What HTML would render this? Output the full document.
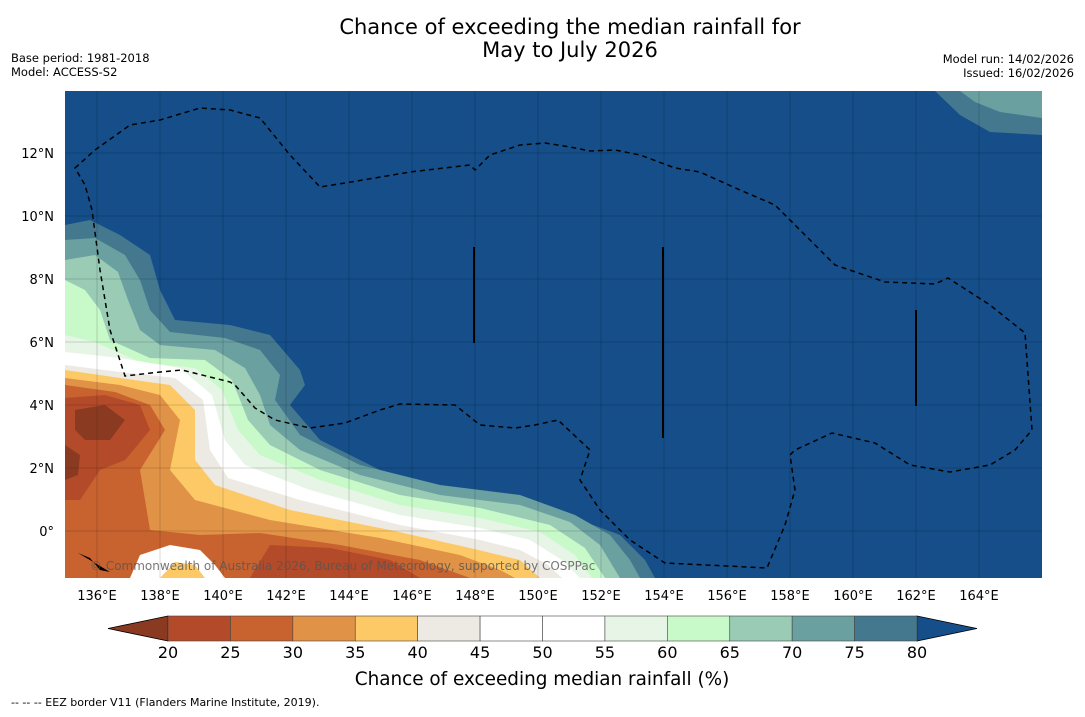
<!DOCTYPE html>
<html><head><meta charset="utf-8"><style>
body{margin:0;background:#fff;font-family:"DejaVu Sans","Liberation Sans",sans-serif}
</style></head><body>
<svg width="1085" height="713" viewBox="0 0 1085 713" xmlns="http://www.w3.org/2000/svg" font-family="DejaVu Sans, Liberation Sans, sans-serif">
<text x="570" y="34" font-size="21" text-anchor="middle">Chance of exceeding the median rainfall for</text>
<text x="570" y="57" font-size="21" text-anchor="middle">May to July 2026</text>
<text x="11" y="62" font-size="11.5">Base period: 1981-2018</text>
<text x="11" y="76" font-size="11.5">Model: ACCESS-S2</text>
<text x="1074" y="63" font-size="11.5" text-anchor="end">Model run: 14/02/2026</text>
<text x="1074" y="77" font-size="11.5" text-anchor="end">Issued: 16/02/2026</text>
<defs><clipPath id="mc"><rect x="65" y="91" width="977" height="487"/></clipPath></defs>
<g clip-path="url(#mc)">
<rect x="65" y="91" width="977" height="487" fill="#154e89"/>
<path d="M935 91 L1042 91 L1042 135 L990 132 L960 115 Z" fill="#44788f"/>
<path d="M960 91 L1042 91 L1042 118 L1000 112 L975 102 Z" fill="#6ba0a1"/>
<path d="M65 225 L90 220 L120 235 L150 255 L160 290 L175 320 L230 325 L270 335 L300 370 L305 385 L290 405 L320 440 L380 470 L450 490 L520 500 L580 520 L620 535 L645 560 L655 578 L65 578Z" fill="#44788f"/>
<path d="M65 240 L95 238 L125 255 L140 280 L150 310 L170 332 L225 338 L260 350 L280 375 L275 400 L300 435 L360 465 L440 485 L520 495 L575 515 L610 535 L630 560 L640 578 L65 578Z" fill="#6ba0a1"/>
<path d="M65 260 L95 255 L118 272 L128 300 L140 330 L160 345 L215 350 L245 368 L260 395 L270 425 L300 450 L360 475 L440 495 L520 505 L570 522 L600 545 L620 578 L65 578Z" fill="#9acbb5"/>
<path d="M65 280 L85 290 L100 310 L110 340 L150 358 L205 360 L232 380 L248 420 L270 445 L320 470 L400 495 L480 508 L550 525 L585 548 L605 578 L65 578Z" fill="#c8f9c8"/>
<path d="M65 335 L95 342 L140 362 L195 368 L222 390 L238 430 L260 455 L320 480 L400 505 L480 518 L540 532 L575 555 L592 578 L65 578Z" fill="#e6f5e6"/>
<path d="M65 352 L120 358 L180 368 L212 395 L225 440 L245 465 L310 490 L400 515 L480 528 L530 540 L562 560 L580 578 L65 578Z" fill="#ffffff"/>
<path d="M65 365 L120 372 L175 378 L203 400 L210 450 L228 478 L300 500 L400 525 L480 540 L520 550 L548 565 L562 578 L65 578Z" fill="#ede9e3"/>
<path d="M65 370 L120 378 L170 385 L195 410 L195 460 L215 485 L290 510 L390 530 L470 548 L520 560 L540 578 L65 578Z" fill="#fdc966"/>
<path d="M65 378 L120 385 L160 395 L180 420 L170 470 L195 500 L270 520 L380 538 L460 555 L500 570 L515 578 L65 578Z" fill="#e09247"/>
<path d="M65 385 L115 392 L150 405 L165 430 L140 470 L150 530 L200 535 L260 533 L340 545 L420 560 L470 578 L65 578Z" fill="#c8622f"/>
<path d="M130 578 L140 555 L170 545 L200 550 L215 565 L225 578Z" fill="#ffffff"/>
<path d="M160 578 L175 562 L195 565 L205 578Z" fill="#fdc966"/>
<path d="M65 398 L105 395 L140 405 L150 430 L125 460 L100 470 L80 500 L65 500Z" fill="#b34a2a"/>
<path d="M75 410 L105 405 L125 420 L110 440 L85 440 L75 430Z" fill="#8b3a22"/>
<path d="M65 445 L80 455 L78 475 L65 480Z" fill="#8b3a22"/>
<path d="M270 545 L330 548 L390 560 L420 578 L250 578Z" fill="#b34a2a"/>
<g stroke="#000" stroke-opacity="0.15" stroke-width="1">
<line x1="97" y1="91" x2="97" y2="578"/><line x1="160" y1="91" x2="160" y2="578"/><line x1="223" y1="91" x2="223" y2="578"/><line x1="286" y1="91" x2="286" y2="578"/><line x1="349" y1="91" x2="349" y2="578"/><line x1="412" y1="91" x2="412" y2="578"/><line x1="475" y1="91" x2="475" y2="578"/><line x1="538" y1="91" x2="538" y2="578"/><line x1="601" y1="91" x2="601" y2="578"/><line x1="664" y1="91" x2="664" y2="578"/><line x1="727" y1="91" x2="727" y2="578"/><line x1="790" y1="91" x2="790" y2="578"/><line x1="853" y1="91" x2="853" y2="578"/><line x1="916" y1="91" x2="916" y2="578"/><line x1="979" y1="91" x2="979" y2="578"/>
<line x1="65" y1="153" x2="1042" y2="153"/><line x1="65" y1="216" x2="1042" y2="216"/><line x1="65" y1="279" x2="1042" y2="279"/><line x1="65" y1="342" x2="1042" y2="342"/><line x1="65" y1="405" x2="1042" y2="405"/><line x1="65" y1="468" x2="1042" y2="468"/><line x1="65" y1="531" x2="1042" y2="531"/>
</g>
<path d="M75 168 L95 150 L130 125 L160 120 L200 108 L230 110 L260 118 L290 155 L320 187 L345 183 L410 172 L470 165 L475 170 L490 155 L520 145 L545 143 L570 147 L590 151 L615 150 L640 155 L675 168 L700 172 L740 190 L775 205 L800 230 L835 265 L885 282 L935 284 L948 278 L990 305 L1025 333 L1032 430 L1015 450 L990 465 L950 472 L910 465 L875 443 L832 433 L795 450 L790 455 L795 490 L785 525 L767 568 L665 563 L630 540 L600 510 L580 480 L590 450 L558 420 L535 425 L515 428 L480 425 L455 405 L400 404 L380 410 L345 423 L310 428 L275 420 L255 408 L235 385 L230 382 L182 370 L160 372 L125 376 L110 330 L100 270 L92 210 L85 185 Z" fill="none" stroke="#000" stroke-width="1.5" stroke-dasharray="5,4"/>
<g stroke="#000" stroke-width="2">
<line x1="474" y1="247" x2="474" y2="343"/><line x1="663" y1="247" x2="663" y2="438"/><line x1="916" y1="310" x2="916" y2="406"/>
</g>
<path d="M78 553 L90 558 L100 570 L110 572 L95 563Z" fill="#000"/>
<text x="90" y="570" font-size="12" fill="#555" fill-opacity="0.8">© Commonwealth of Australia 2026, Bureau of Meteorology, supported by COSPPac</text>
</g>
<g font-size="13">
<text x="54" y="158" text-anchor="end">12°N</text><text x="54" y="221" text-anchor="end">10°N</text><text x="54" y="284" text-anchor="end">8°N</text><text x="54" y="347" text-anchor="end">6°N</text><text x="54" y="410" text-anchor="end">4°N</text><text x="54" y="473" text-anchor="end">2°N</text><text x="54" y="536" text-anchor="end">0°</text>
</g>
<g font-size="13" text-anchor="middle">
<text x="97" y="600">136°E</text><text x="160" y="600">138°E</text><text x="223" y="600">140°E</text><text x="286" y="600">142°E</text><text x="349" y="600">144°E</text><text x="412" y="600">146°E</text><text x="475" y="600">148°E</text><text x="538" y="600">150°E</text><text x="601" y="600">152°E</text><text x="664" y="600">154°E</text><text x="727" y="600">156°E</text><text x="790" y="600">158°E</text><text x="853" y="600">160°E</text><text x="916" y="600">162°E</text><text x="979" y="600">164°E</text>
</g>
<g id="cbar"></g>
<text x="542" y="685" font-size="18.4" text-anchor="middle">Chance of exceeding median rainfall (%)</text>
<text x="11" y="706" font-size="11">--  --  -- EEZ border V11 (Flanders Marine Institute, 2019).</text>
</svg>
<script>
const levels=[20,25,30,35,40,45,50,55,60,65,70,75,80];
const bandColors=["#b34a2a","#c8622f","#e09247","#fdc966","#ede9e3","#ffffff","#ffffff","#e6f5e6","#c8f9c8","#9acbb5","#6ba0a1","#44788f"];
const underColor="#8b3a22", overColor="#154e89";
const NS="http://www.w3.org/2000/svg";
const g=document.getElementById('cbar');
const x0=168,x1=917,y0=616,y1=641;
const xs=v=>x0+(v-levels[0])/(levels[levels.length-1]-levels[0])*(x1-x0);
function mk(t,a){const e=document.createElementNS(NS,t);for(const k in a)e.setAttribute(k,a[k]);g.appendChild(e);return e;}
let tl=mk('polygon',{points:`${x0},${y0} 108,${(y0+y1)/2} ${x0},${y1}`,fill:underColor,stroke:'#000','stroke-width':0.8});


let tr=mk('polygon',{points:`${x1},${y0} 977,${(y0+y1)/2} ${x1},${y1}`,fill:overColor,stroke:'#000','stroke-width':0.8});


for(let i=0;i<bandColors.length;i++){
 const r=mk('rect',{x:xs(levels[i]),y:y0,width:xs(levels[i+1])-xs(levels[i]),height:y1-y0,fill:bandColors[i],stroke:'#444','stroke-width':0.6});
 
 
}
for(const v of levels){
 const t=mk('text',{x:xs(v),y:658,'font-size':16,'text-anchor':'middle'});
 t.textContent=v;
 
 
}
</script>
</body></html>
